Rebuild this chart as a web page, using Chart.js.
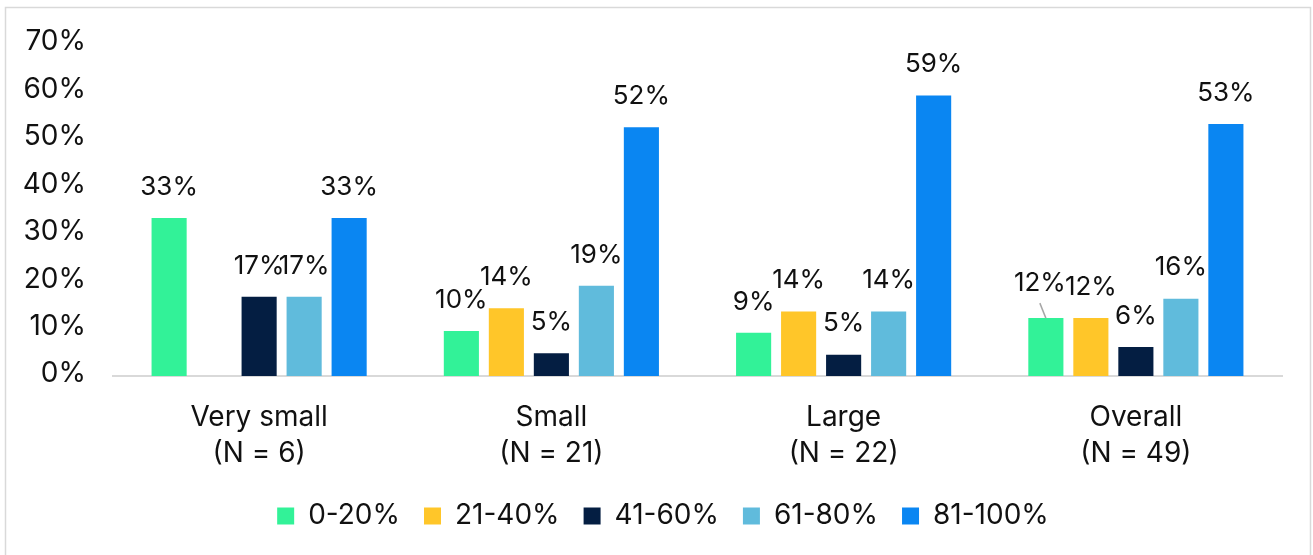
<!DOCTYPE html>
<html lang="en">
<head>
    <meta charset="UTF-8">
    <title>Share of respondents by size</title>
    <script src="https://cdn.jsdelivr.net/npm/chart.js"></script>
    <style>
        html, body { margin: 0; padding: 0; background: #fff; }
        #wrap { width: 1313px; height: 555px; position: relative; }
    </style>
</head>
<body>
    <div id="wrap">
        <canvas id="chart" width="1313" height="555"></canvas>
    </div>

    <script>
        // Categories (two-line axis labels)
        const categories = [
            ['Very small', '(N = 6)'],
            ['Small', '(N = 21)'],
            ['Large', '(N = 22)'],
            ['Overall', '(N = 49)']
        ];

        // Series names and values (%)
        const seriesNames = ['0-20%', '21-40%', '41-60%', '61-80%', '81-100%'];
        const share0to20 = [33.3, 9.5, 9.1, 12.2];
        const share21to40 = [0, 14.3, 13.6, 12.2];
        const share41to60 = [16.7, 4.8, 4.5, 6.1];
        const share61to80 = [16.7, 19.0, 13.6, 16.3];
        const share81to100 = [33.3, 52.4, 59.1, 53.1];

        const yTicks = [0, 10, 20, 30, 40, 50, 60, 70];

        const colors = ['#32F298', '#FFC629', '#041E42', '#60BBDC', '#0A86F2'];
        const FONT = 'Inter';
        const TEXT = '#111111';

        // light grey frame round the whole chart
        const framePlugin = {
            id: 'frame',
            beforeDraw(chart) {
                const ctx = chart.ctx;
                ctx.save();
                ctx.fillStyle = '#fff';
                ctx.fillRect(0, 0, chart.width, chart.height);
                ctx.strokeStyle = '#d9d9d9';
                ctx.lineWidth = 1.5;
                ctx.strokeRect(5.5, 7.5, 1305, 560);
                ctx.restore();
            }
        };

        // move the legend a little to the right, under the plot
        const legendShift = {
            id: 'legendShift',
            afterLayout(chart) {
                const lg = chart.legend;
                if (!lg) return;
                lg.left += 22;
                lg.right += 22;
            }
        };

        // value labels above each bar
        const valueLabels = {
            id: 'valueLabels',
            afterDatasetsDraw(chart, args, opts) {
                const ctx = chart.ctx;
                ctx.save();
                ctx.font = '26px ' + FONT;
                ctx.fillStyle = TEXT;
                ctx.textAlign = 'center';
                ctx.textBaseline = 'middle';
                chart.data.datasets.forEach((ds, di) => {
                    const meta = chart.getDatasetMeta(di);
                    meta.data.forEach((bar, i) => {
                        const v = ds.data[i];
                        if (!v) return;
                        let x = bar.x;
                        let y = bar.y - 31;
                        const nudge = opts.nudge[di + ':' + i];
                        if (nudge) {
                            x += nudge[0];
                            y += nudge[1];
                            // leader line back to the bar
                            ctx.strokeStyle = '#a6a6a6';
                            ctx.lineWidth = 1.5;
                            ctx.beginPath();
                            ctx.moveTo(x, y + 20);
                            ctx.lineTo(bar.x, bar.y);
                            ctx.stroke();
                        }
                        ctx.fillText(Math.round(v) + '%', x, y);
                    });
                });
                ctx.restore();
            }
        };

        const seriesValues = [share0to20, share21to40, share41to60, share61to80, share81to100];

        new Chart(document.getElementById('chart'), {
            type: 'bar',
            data: {
                labels: categories,
                datasets: seriesNames.map((name, k) => ({
                    label: name,
                    data: seriesValues[k],
                    backgroundColor: colors[k],
                    borderWidth: 0,
                    categoryPercentage: 0.77,
                    barPercentage: 0.78
                }))
            },
            options: {
                responsive: false,
                animation: false,
                layout: { padding: { top: 23, right: 31, left: 0, bottom: 15 } },
                scales: {
                    x: {
                        grid: { display: false, drawTicks: false },
                        border: { display: true, color: '#d9d9d9', width: 2 },
                        ticks: {
                            color: TEXT,
                            padding: 24,
                            maxRotation: 0,
                            font: { family: FONT, size: 28, lineHeight: 1.27 }
                        },
                        afterFit(scale) { scale.height = 102; }
                    },
                    y: {
                        min: 0,
                        max: 70,
                        grid: { display: false, drawTicks: false },
                        border: { display: false },
                        afterBuildTicks(scale) {
                            scale.ticks = yTicks.map(v => ({ value: v }));
                        },
                        ticks: {
                            color: TEXT,
                            padding: 27,
                            labelOffset: -2,
                            font: { family: FONT, size: 28 },
                            callback: v => v + '%'
                        },
                        afterFit(scale) { scale.width = 113; }
                    }
                },
                plugins: {
                    legend: {
                        position: 'bottom',
                        labels: {
                            boxWidth: 17,
                            boxHeight: 17,
                            padding: 24,
                            color: TEXT,
                            font: { family: FONT, size: 28 }
                        }
                    },
                    tooltip: { enabled: false },
                    valueLabels: { nudge: { '0:3': [-6, -4] } }
                }
            },
            plugins: [framePlugin, legendShift, valueLabels]
        });
    </script>
</body>
</html>
